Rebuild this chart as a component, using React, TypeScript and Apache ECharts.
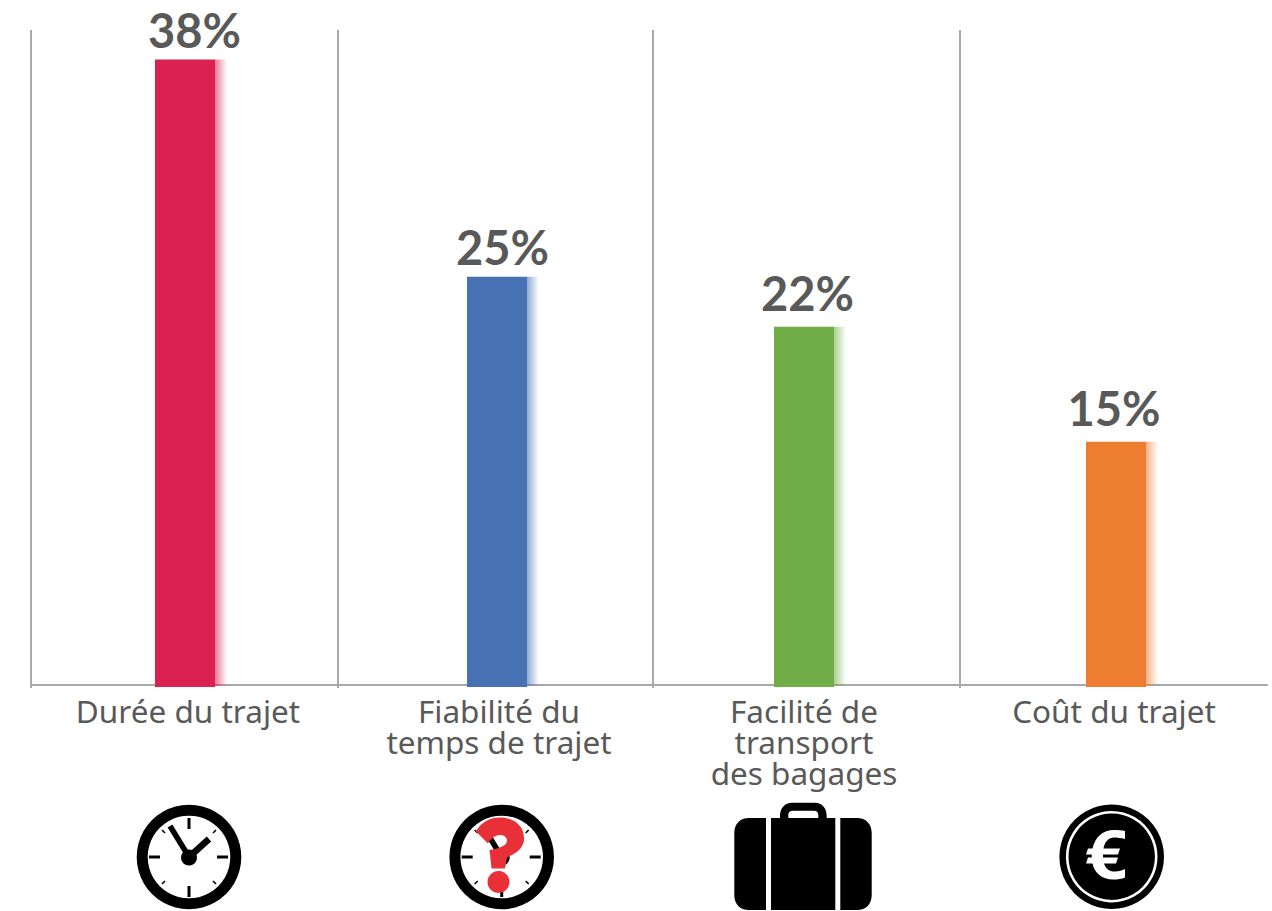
import React, { useEffect, useRef } from "react";
import * as echarts from "echarts";

const categories = ["Durée du trajet", "Fiabilité du\ntemps de trajet", "Facilité de\ntransport\ndes bagages", "Coût du trajet"];
const shares = [38.2, 24.95, 21.9, 14.9];
const colors = ["#DB2152", "#4672B4", "#70AD47", "#ED7D31"];

// Small hand-placement offsets (px) of the source layout relative to even bands
const BAR_SHIFT = [-0.5, 2.5, 0.5, 3.5];
const VALUE_SHIFT = [9, 8, 4, 1.5];
const VALUE_LIFT = [30, 30, 34, 34];
const SEP_SHIFT = [0, -2, 4, 2];
const LABEL_SHIFT = [2.5, 4.5, 0.5, 1.5];
const GREY = "#595959";
const LINE = "#A9A9A9";
const LABEL_FONT = "Noto Sans";
const VALUE_FONT = "Lato";

const QUESTION = "M476 831.5C481 822 490 817.5 500 817.5C514 817.5 524 826 524 838C524 848 517 853 507 857.5L505 868.5L491.5 868.5L489.5 850C497 849 507 846 507 841C507 837 504 835 500 835C496 835 491 838 488 843.5Z";
const EURO = "M1125 831L1125 839C1121 838 1117 837.5 1114 837.5C1109 837.5 1105 841 1103.5 848.5L1120 848.5L1118 854.5L1103 854.5L1103 857.5L1118 857.5L1116 863.5L1104 863.5C1106 869 1109 871.5 1115 871.5C1119 871.5 1122 870.5 1125 869L1125 877.5C1122 879 1118 879.5 1113 879.5C1102 879.5 1094.5 873 1092.5 863.5L1086 863.5L1088 857.5L1091.7 857.5L1091.7 854.5L1086 854.5L1088 848.5L1092.5 848.5C1095 837 1103 830 1114 830C1118 830 1122 830.3 1125 831Z";
const CASE = "M749 818L780 818L780 816C780 808 785 802.7 792 802.7L815 802.7C822 802.7 826.7 808 826.7 816L826.7 818L857 818C866 818 871.7 824 871.7 833L871.7 895C871.7 904 866 910 857 910L749 910C740 910 734.3 904 734.3 895L734.3 833C734.3 824 740 818 749 818ZM788.3 818L818.3 818L818.3 815C818.3 812 816.5 810.7 814 810.7L793 810.7C790 810.7 788.3 812 788.3 815Z";

echarts.graphic.registerShape("questionMark", echarts.graphic.extendPath(QUESTION, {}) as any);
echarts.graphic.registerShape("euroSign", echarts.graphic.extendPath(EURO, {}) as any);
echarts.graphic.registerShape("suitcase", echarts.graphic.extendPath(CASE, {}) as any);

function clock(cx: number, cy: number): any[] {
  const els: any[] = [
    { type: "ring", shape: { cx, cy, r: 52.3, r0: 41.3 }, style: { fill: "#000" } },
  ];
  const seg = (x1: number, y1: number, x2: number, y2: number, w: number) => ({
    type: "line",
    shape: { x1: cx + x1, y1: cy + y1, x2: cx + x2, y2: cy + y2 },
    style: { stroke: "#000", lineWidth: w },
  });
  els.push(seg(0, -39, 0, -28, 3), seg(0, 29, 0, 40, 3), seg(-40, 0, -29, 0, 3), seg(28, 0, 39, 0, 3));
  els.push(seg(-27, -27, -24, -24, 1.6), seg(27, -27, 24, -24, 1.6), seg(-27, 27, -24, 24, 1.6), seg(27, 27, 24, 24, 1.6));
  els.push(seg(0, 0, -19, -31, 5.5), seg(0, 0, 20, -18, 6.5));
  els.push({ type: "circle", shape: { cx, cy: cy + 0.5, r: 8 }, style: { fill: "#000" } });
  return els;
}

const icons: any[] = [
  ...clock(189, 857),
  ...clock(501.7, 857),
  { type: "questionMark", style: { fill: "#E92F37" } },
  { type: "circle", shape: { cx: 498.5, cy: 882, r: 11 }, style: { fill: "#E92F37" } },
  { type: "suitcase", style: { fill: "#000" } },
  { type: "rect", shape: { x: 766, y: 816, width: 5, height: 95 }, style: { fill: "#fff" } },
  { type: "rect", shape: { x: 835.3, y: 816, width: 5, height: 95 }, style: { fill: "#fff" } },
  { type: "circle", shape: { cx: 1111.7, cy: 856.7, r: 52.3 }, style: { fill: "#000" } },
  { type: "circle", shape: { cx: 1111.7, cy: 856.7, r: 44.5 }, style: { fill: "none", stroke: "#fff", lineWidth: 2.6 } },
  { type: "euroSign", style: { fill: "#fff" } },
];

export default function App() {
  const ref = useRef<HTMLDivElement>(null);
  useEffect(() => {
    const chart = echarts.init(ref.current!, undefined, { renderer: "svg" });
    const rich: any = {};
    LABEL_SHIFT.forEach((s, i) => {
      rich["c" + i] = { fontFamily: LABEL_FONT, fontSize: 31.5, color: GREY, lineHeight: 31, padding: [0, 0, 0, 2 * s] };
    });
    chart.setOption({
      animation: false,
      grid: { left: 31, right: 5, top: 30, bottom: 225 },
      xAxis: {
        type: "category",
        data: categories,
        offset: -1,
        axisLine: { show: true, lineStyle: { color: LINE, width: 2 } },
        axisTick: { show: false },
        splitLine: { show: false },
        axisLabel: {
          interval: 0,
          margin: 10,
          verticalAlign: "top",
          formatter: (v: string) => {
            const i = categories.indexOf(v);
            return v.split("\n").map((l) => `{c${i}|${l}}`).join("\n");
          },
          rich,
        },
      },
      yAxis: { type: "value", min: 0, max: 40, show: false, splitLine: { show: false } },
      series: [
        {
          type: "custom",
          name: "Séparateurs",
          silent: true,
          data: categories.map((_, i) => [i, 0]),
          renderItem: (_: any, api: any) => {
            const i = api.value(0);
            const base = api.coord([i, 0]);
            const top = api.coord([i, 40]);
            const x = Math.round(base[0] - api.size([1, 0])[0] / 2 + SEP_SHIFT[i]);
            return { type: "line", shape: { x1: x, y1: top[1], x2: x, y2: base[1] + 2 }, style: { stroke: LINE, lineWidth: 2 } };
          },
        },
        {
          type: "custom",
          name: "Part",
          silent: true,
          z: 5,
          data: shares.map((v, i) => [i, v]),
          renderItem: (_: any, api: any) => {
            const i = api.value(0);
            const v = api.value(1);
            const p = api.coord([i, v]);
            const base = api.coord([i, 0]);
            const x = p[0] + BAR_SHIFT[i] - 30;
            const h = base[1] + 1 - p[1];
            return {
              type: "group",
              children: [
                {
                  type: "rect",
                  shape: { x: x + 60, y: p[1], width: 12, height: h - 1 },
                  style: {
                    fill: new echarts.graphic.LinearGradient(0, 0, 1, 0, [
                      { offset: 0, color: colors[i] + "99" },
                      { offset: 1, color: colors[i] + "00" },
                    ]),
                  },
                },
                { type: "rect", shape: { x, y: p[1], width: 60, height: h }, style: { fill: colors[i] } },
                {
                  type: "text",
                  x: p[0] + VALUE_SHIFT[i],
                  y: p[1] - VALUE_LIFT[i],
                  style: {
                    text: Math.round(v) + "%",
                    fill: GREY,
                    fontFamily: VALUE_FONT,
                    fontWeight: "bold",
                    fontSize: 47,
                    align: "center",
                    verticalAlign: "middle",
                  },
                },
              ],
            };
          },
        },
      ],
      graphic: { elements: icons },
    });
    return () => chart.dispose();
  }, []);
  return <div ref={ref} style={{ position: "absolute", left: 0, top: 0, width: 1272, height: 911 }} />;
}
